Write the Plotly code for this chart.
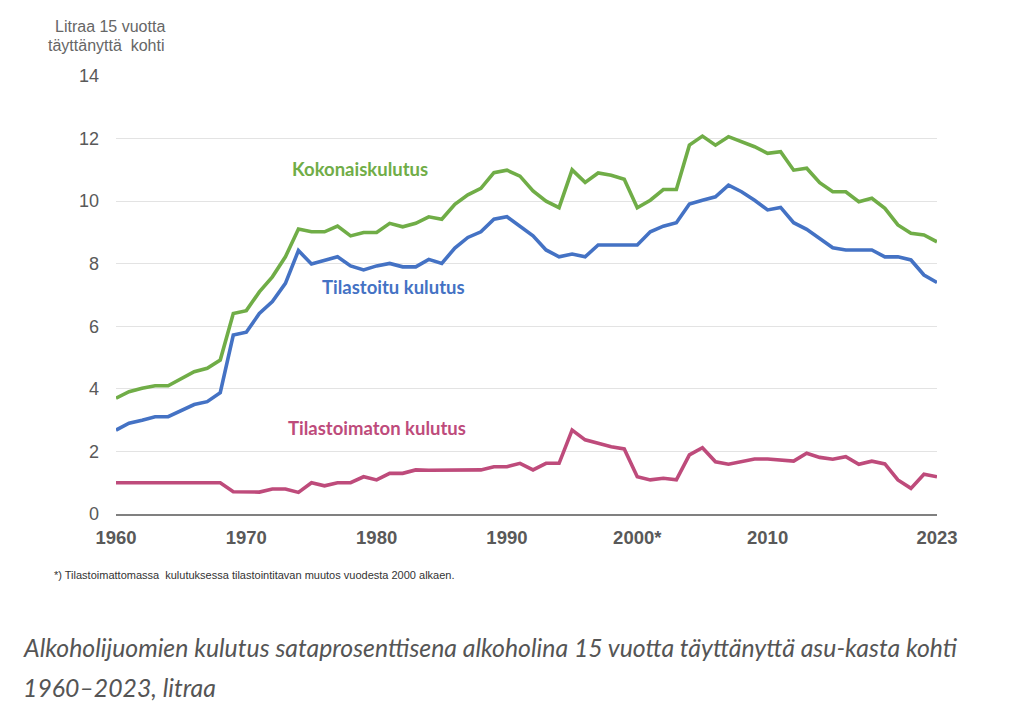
import plotly.graph_objects as go

years = list(range(1960, 2024))

total = [3.70, 3.91, 4.02, 4.10, 4.10, 4.34, 4.55, 4.66, 4.92, 6.41,
         6.50, 7.10, 7.58, 8.22, 9.11, 9.02, 9.02, 9.20, 8.89, 9.00,
         9.00, 9.29, 9.18, 9.29, 9.50, 9.42, 9.90, 10.20, 10.41, 10.91,
         10.99, 10.80, 10.33, 10.00, 9.79, 11.00, 10.60, 10.90, 10.83, 10.70,
         9.79, 10.03, 10.37, 10.37, 11.79, 12.08, 11.79, 12.06, 11.90, 11.74,
         11.53, 11.58, 10.99, 11.05, 10.59, 10.30, 10.30, 9.98, 10.09, 9.77,
         9.24, 8.97, 8.92, 8.70]

recorded = [2.68, 2.90, 3.00, 3.11, 3.11, 3.32, 3.50, 3.59, 3.88, 5.72,
            5.81, 6.41, 6.79, 7.37, 8.42, 7.99, 8.12, 8.22, 7.93, 7.80,
            7.93, 8.01, 7.90, 7.90, 8.14, 8.01, 8.50, 8.84, 9.02, 9.42,
            9.50, 9.20, 8.89, 8.44, 8.22, 8.31, 8.22, 8.60, 8.60, 8.60,
            8.60, 9.02, 9.20, 9.31, 9.91, 10.03, 10.14, 10.51, 10.30, 10.03,
            9.72, 9.80, 9.31, 9.10, 8.79, 8.51, 8.44, 8.44, 8.44, 8.22,
            8.22, 8.12, 7.64, 7.40]

unrecorded = [1.00, 1.00, 1.00, 1.00, 1.00, 1.00, 1.00, 1.00, 1.00, 0.71,
              0.70, 0.70, 0.80, 0.80, 0.69, 1.00, 0.90, 1.00, 1.00, 1.19,
              1.09, 1.30, 1.30, 1.41, 1.40, 1.40, 1.40, 1.40, 1.41, 1.51,
              1.51, 1.62, 1.41, 1.62, 1.62, 2.68, 2.37, 2.26, 2.15, 2.08,
              1.19, 1.09, 1.14, 1.09, 1.89, 2.12, 1.67, 1.59, 1.67, 1.76,
              1.76, 1.73, 1.69, 1.94, 1.81, 1.75, 1.83, 1.59, 1.69, 1.60,
              1.09, 0.82, 1.27, 1.19]

x_tickvals = [1960, 1970, 1980, 1990, 2000, 2010, 2023]
x_ticktext = ["1960", "1970", "1980", "1990", "2000*", "2010", "2023"]
y_tickvals = [0, 2, 4, 6, 8, 10, 12, 14]

series_names = ["Kokonaiskulutus", "Tilastoitu kulutus", "Tilastoimaton kulutus"]
series_colors = ["#70AD47", "#4472C4", "#BE4B7B"]
label_pos = [(1978.7, 11.03), (1981.3, 7.25), (1980.0, 2.74)]

fig = go.Figure()
for name, vals, col in zip(series_names, [total, recorded, unrecorded], series_colors):
    fig.add_trace(go.Scatter(x=years, y=vals, mode="lines", name=name,
                             line=dict(color=col, width=3.6), showlegend=False,
                             hoverinfo="x+y"))

for name, col, (lx, ly) in zip(series_names, series_colors, label_pos):
    fig.add_annotation(x=lx, y=ly, xref="x", yref="y", text="<b>" + name + "</b>",
                       showarrow=False, font=dict(family="Lato", size=18.5, color=col),
                       xanchor="center", yanchor="middle")

# page has an 8px body margin; figure is placed at (8, 8)
OFF = 8
W, H = 1024 - 2 * OFF, 716 - 2 * OFF
L, R, T, B = 116 - OFF, 1024 - OFF - 937, 76 - OFF, 716 - OFF - 514
pw, ph = W - L - R, H - T - B


def px(xp):
    return (xp - OFF - L) / pw


def py(yp):
    return (H - B - (yp - OFF)) / ph


fig.update_layout(
    width=W, height=H,
    margin=dict(l=L, r=R, t=T, b=B),
    paper_bgcolor="white", plot_bgcolor="white",
    xaxis=dict(range=[1960, 2023], tickvals=x_tickvals, ticktext=x_ticktext,
               showgrid=False, zeroline=False, showline=True, linecolor="#808080",
               linewidth=1.5, ticks="", ticklabelstandoff=6,
               tickfont=dict(family="Liberation Sans", size=18.5, color="#595959", weight="bold")),
    yaxis=dict(range=[0, 14], tickvals=y_tickvals, showgrid=True, gridcolor="#e3e3e3",
               gridwidth=1.2, zeroline=False, showline=False, ticks="",
               ticklabelstandoff=16,
               tickfont=dict(family="Liberation Sans", size=18, color="#595959")),
)

# axis title (top-left)
for txt, yp in [("Litraa 15 vuotta", 27), ("täyttänyttä  kohti", 46)]:
    fig.add_annotation(x=px(167), y=py(yp), xref="paper", yref="paper",
                       text=txt, showarrow=False, xanchor="right", yanchor="middle",
                       font=dict(family="Liberation Sans", size=16, color="#666666"))

fig.add_annotation(x=px(52), y=py(575), xref="paper", yref="paper",
                   text="*) Tilastoimattomassa  kulutuksessa tilastointitavan muutos vuodesta 2000 alkaen.",
                   showarrow=False, xanchor="left", yanchor="middle",
                   font=dict(family="Liberation Sans", size=11, color="#333333"))
fig.add_annotation(x=px(21), y=py(647), xref="paper", yref="paper",
                   text="<i>Alkoholijuomien kulutus sataprosenttisena alkoholina 15 vuotta täyttänyttä asu-kasta kohti</i>",
                   showarrow=False, xanchor="left", yanchor="middle",
                   font=dict(family="Lato", size=24.8, color="#555555"))
fig.add_annotation(x=px(21), y=py(687), xref="paper", yref="paper",
                   text="<i>1960–2023, litraa</i>",
                   showarrow=False, xanchor="left", yanchor="middle",
                   font=dict(family="Lato", size=24.8, color="#555555"))

fig.write_html("out.html")
